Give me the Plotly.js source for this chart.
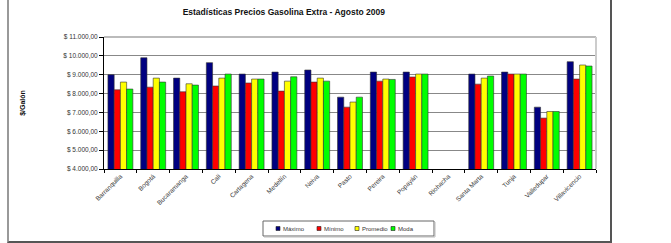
<!DOCTYPE html>
<html><head><meta charset="utf-8">
<script src="https://cdn.plot.ly/plotly-3.0.1.min.js"></script>
<style>
html,body{margin:0;padding:0;background:#fff;}
#frame{position:absolute;left:7px;top:-3px;width:601px;height:244px;border-left:2px solid #999;border-right:2px solid #555;border-bottom:2px solid #555;}
#chart{position:absolute;left:0;top:0;width:671px;height:243px;}
</style></head>
<body>
<div id="frame"></div>
<div id="chart"></div>
<script>
const ciudades = ["Barranquilla","Bogotá","Bucaramanga","Cali","Cartagena","Medellín","Neiva","Pasto","Pereira","Popayán","Riohacha","Santa Marta","Tunja","Valledupar","Villavicencio"];
const maximo   = [9000, 9900, 8820, 9640, 9035, 9140, 9250, 7810, 9140, 9140, null, 9035, 9140, 7280, 9690];
const minimo   = [8200, 8340, 8095, 8400, 8560, 8130, 8610, 7280, 8660, 8880, null, 8500, 9035, 6700, 8770];
const promedio = [8610, 8820, 8520, 8820, 8770, 8660, 8820, 7550, 8770, 9035, null, 8820, 9035, 7050, 9515];
const moda     = [8240, 8610, 8450, 9035, 8770, 8890, 8660, 7810, 8750, 9035, null, 8930, 9035, 7050, 9460];
const yTicks = [4000,5000,6000,7000,8000,9000,10000,11000];
const yTickText = ["$ 4.000,00","$ 5.000,00","$ 6.000,00","$ 7.000,00","$ 8.000,00","$ 9.000,00","$ 10.000,00","$ 11.000,00"];
const serieNombres = ["Máximo","Mínimo","Promedio","Moda"];
const serieColores = ["#000080","#FF0000","#FFFF00","#00FF00"];
const serieValores = [maximo, minimo, promedio, moda];

const data = serieNombres.map((n,i) => ({
  type:"bar", name:n, x:ciudades, y:serieValores[i],
  marker:{color:serieColores[i], line:{color:"#333333", width:0.6}},
  showlegend:false
}));

// manual compact legend (layout positions in pixels -> paper coords)
const PL=104, PW=492, PB=169, PH=132;
const px = v => (v-PL)/PW, py = v => (PB-v)/PH;
const shapes = [
  {type:"line", xref:"paper", yref:"paper", x0:0, x1:1, y0:1, y1:1, line:{color:"#bbb", width:2}},
  {type:"line", xref:"paper", yref:"paper", x0:1, x1:1, y0:0, y1:1, line:{color:"#ccc", width:2}},
  {type:"rect", xref:"paper", yref:"paper", x0:px(263), x1:px(434), y0:py(221), y1:py(236), line:{color:"#666", width:1}, fillcolor:"#fff"},
  {type:"line", xref:"paper", yref:"paper", x0:px(264), x1:px(435), y0:py(237), y1:py(237), line:{color:"#bbb", width:1}},
  {type:"line", xref:"paper", yref:"paper", x0:px(435), x1:px(435), y0:py(222), y1:py(237), line:{color:"#bbb", width:1}}
];
const annotations = [];
const legX = [276, 317, 355, 391];
serieNombres.forEach((n,i) => {
  shapes.push({type:"rect", xref:"paper", yref:"paper", x0:px(legX[i]), x1:px(legX[i]+4), y0:py(226.5), y1:py(230.5), line:{color:"#222", width:0.6}, fillcolor:serieColores[i]});
  annotations.push({xref:"paper", yref:"paper", x:px(legX[i]+4.5), y:py(228.5), xanchor:"left", yanchor:"middle", text:n, showarrow:false, font:{family:"Liberation Sans, Arial, sans-serif", size:6, color:"#333"}});
});

const F = "Liberation Sans, Arial, sans-serif";
const layout = {
  width:671, height:243,
  margin:{l:104, r:75, t:37, b:74},
  paper_bgcolor:"rgba(0,0,0,0)", plot_bgcolor:"#ffffff",
  font:{family:F, size:7, color:"#333"},
  barmode:"group", bargap:0.24, bargroupgap:0,
  title:{text:"<b>Estadísticas Precios Gasolina Extra - Agosto 2009</b>", font:{family:F, size:8.5, color:"#111"}, x:0.423, xanchor:"center", y:0.95, yanchor:"middle", xref:"container", yref:"container"},
  xaxis:{type:"category", tickangle:-45, tickfont:{family:F, size:6.5, color:"#333"}, showline:true, linecolor:"#000", linewidth:1, ticks:"outside", tickson:"boundaries", ticklen:3, tickcolor:"#000", showgrid:false, automargin:false},
  yaxis:{range:[4000,11000], tickvals:yTicks, ticktext:yTickText, tickfont:{family:F, size:6.5, color:"#333"}, showline:true, linecolor:"#000", linewidth:1, ticks:"outside", ticklen:4, tickcolor:"#000", showgrid:true, gridcolor:"#888", gridwidth:1, zeroline:false, automargin:false,
    title:{text:"<b>$/Galón</b>", font:{family:F, size:7, color:"#111"}, standoff:36}},
  showlegend:false,
  shapes:shapes,
  annotations:annotations
};
Plotly.newPlot("chart", data, layout, {staticPlot:true, displayModeBar:false});
</script>
</body></html>
